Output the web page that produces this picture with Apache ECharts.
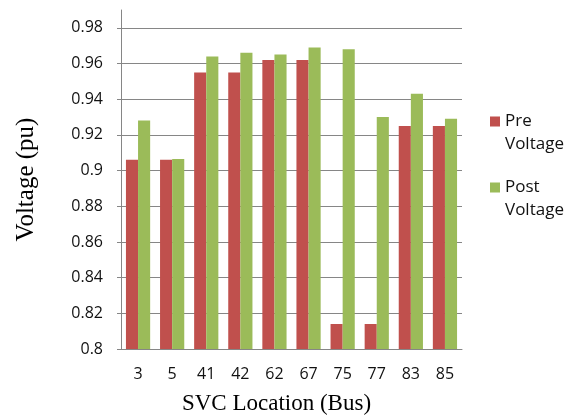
<!DOCTYPE html>
<html>
<head>
<meta charset="utf-8">
<script src="https://cdn.jsdelivr.net/npm/echarts@6/dist/echarts.min.js"></script>
<style>
  html, body { margin: 0; padding: 0; background: #fff; }
  #chart { width: 572px; height: 416px; }
</style>
</head>
<body>
<div id="chart"></div>
<script>
// SVC placement study: bus voltage before and after compensation
const buses = ['3', '5', '41', '42', '62', '67', '75', '77', '83', '85'];
const preVoltage = [0.906, 0.906, 0.955, 0.955, 0.962, 0.962, 0.814, 0.814, 0.925, 0.925];
const postVoltage = [0.928, 0.9065, 0.964, 0.966, 0.965, 0.969, 0.968, 0.930, 0.943, 0.929];
const seriesNames = ['Pre Voltage', 'Post Voltage'];
const seriesColors = ['#C0504D', '#9BBB59'];

const uiFont = 'Open Sans';
const serifFont = 'Liberation Serif';
// square drawn in the upper part of the icon box so it sits beside the first text line
const legendIcon = 'path://M0,0h10v10h-10Z M0,32.9h0.1v0.1h-0.1Z';

const chart = echarts.init(document.getElementById('chart'), null, { renderer: 'canvas' });

chart.setOption({
  animation: false,
  backgroundColor: '#ffffff',
  grid: { left: 121, right: 110, top: 10, bottom: 67, containLabel: false, outerBoundsMode: 'none' },
  legend: {
    orient: 'vertical',
    left: 490,
    top: 110,
    padding: 0,
    itemGap: 20,
    itemWidth: 10,
    itemHeight: 33,
    icon: legendIcon,
    formatter: name => name.replace(' ', '\n'),
    textStyle: { fontFamily: uiFont, fontSize: 17, color: '#111', lineHeight: 23, padding: [0, 0, 0, 0] },
    data: seriesNames
  },
  xAxis: {
    type: 'category',
    data: buses,
    name: 'SVC Location (Bus)',
    nameLocation: 'middle',
    nameGap: 43,
    nameTextStyle: { fontFamily: serifFont, fontSize: 23, color: '#000', verticalAlign: 'top', padding: [0, 30, 0, 0] },
    axisLine: { lineStyle: { color: '#868686', width: 1 } },
    axisTick: { show: false },
    axisLabel: { fontFamily: uiFont, fontSize: 16, color: '#111', margin: 17 }
  },
  yAxis: {
    type: 'value',
    min: 0.8,
    max: 0.99,
    interval: 0.02,
    name: 'Voltage (pu)',
    nameLocation: 'middle',
    nameRotate: 90,
    nameGap: 82,
    nameTextStyle: { fontFamily: serifFont, fontSize: 25, color: '#000' },
    axisLine: { show: true, lineStyle: { color: '#868686', width: 1 } },
    axisTick: { show: true, length: 4, lineStyle: { color: '#868686' } },
    axisLabel: {
      fontFamily: uiFont, fontSize: 16, color: '#111', margin: 18,
      showMaxLabel: false,
      formatter: v => String(parseFloat(v.toFixed(2)))
    },
    splitLine: { show: true, showMaxLine: false, lineStyle: { color: '#868686', width: 1 } }
  },
  series: [
    {
      name: seriesNames[0], type: 'bar', data: preVoltage,
      itemStyle: { color: seriesColors[0] },
      barGap: '0%', barCategoryGap: '29%'
    },
    {
      name: seriesNames[1], type: 'bar', data: postVoltage,
      itemStyle: { color: seriesColors[1] },
      barGap: '0%', barCategoryGap: '29%'
    }
  ]
});
</script>
</body>
</html>
